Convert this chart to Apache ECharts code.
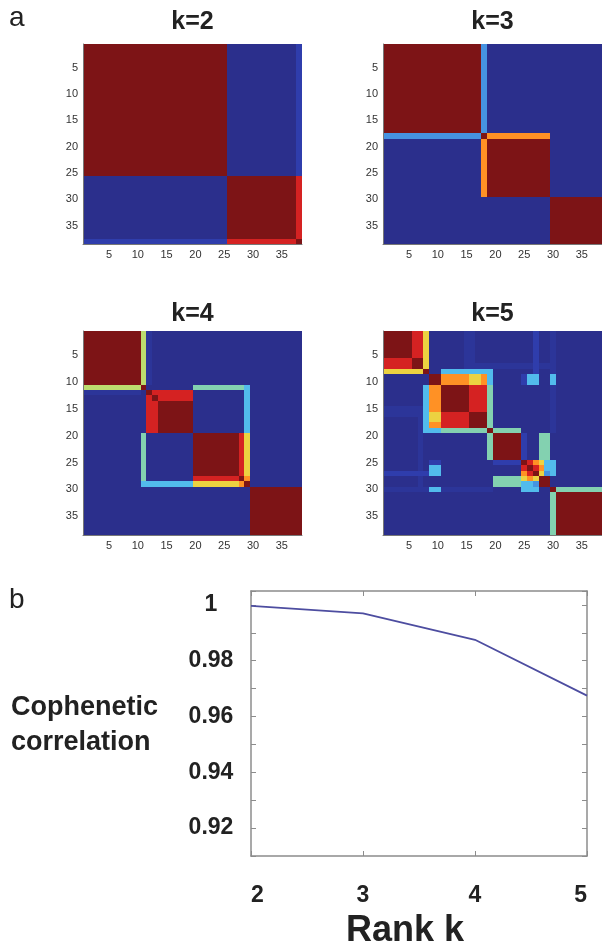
<!DOCTYPE html>
<html>
<head>
<meta charset="utf-8">
<script src="https://cdn.jsdelivr.net/npm/echarts@6/dist/echarts.min.js"></script>
<style>html,body{margin:0;padding:0;background:#fff}#c{width:602px;height:946px}</style>
</head>
<body>
<div id="c"></div>
<script>
// ---------- data ----------
const N = 38;
const sampleLabels = Array.from({length: N}, (_, i) => String(i + 1));
// consensus levels
const levels = {'.':0, b:0.035, B:0.09, L:0.28, C:0.37, G:0.48, g:0.57, Y:0.66, O:0.77, r:0.9, R:1};
// blocks: [rowFrom, rowTo, colFrom, colTo, level]  (matrix is symmetric)
const k2Blocks = [
  [1,25,1,25,'R'], [26,38,26,38,'R'], [38,38,1,25,'B'], [26,37,38,38,'r'], [38,38,38,38,'R']
];
const k3Blocks = [
  [1,17,1,17,'R'], [19,29,19,29,'R'], [30,38,30,38,'R'],
  [18,18,1,17,'L'], [18,18,19,29,'O'], [18,18,18,18,'R']
];
const k4Blocks = [
  [1,10,1,10,'R'], [11,11,1,10,'g'], [11,11,11,11,'R'], [12,12,1,10,'b'],
  [12,19,12,19,'R'], [12,13,12,19,'r'], [12,12,12,12,'R'], [13,13,13,13,'R'],
  [20,27,20,27,'R'], [28,28,20,27,'r'], [28,28,28,28,'R'],
  [11,11,20,28,'G'], [29,29,11,11,'C'], [29,29,12,19,'C'], [29,29,20,27,'Y'],
  [29,29,28,28,'O'], [29,29,29,29,'R'], [30,38,30,38,'R']
];
const k5Blocks = [
  [7,7,16,29,'b'], [1,7,15,16,'b'], [27,27,1,8,'B'], [1,19,30,30,'b'],
  [1,7,1,7,'R'], [6,7,1,5,'r'], [6,7,6,7,'R'],
  [8,8,1,7,'Y'], [8,8,8,8,'R'],
  [9,10,9,10,'R'],
  [11,18,11,18,'R'], [16,18,11,15,'r'],
  [9,10,11,15,'O'], [9,10,16,17,'Y'], [9,10,18,18,'O'],
  [8,8,11,19,'C'],
  [19,19,9,10,'C'], [19,19,11,18,'G'], [19,19,19,19,'R'],
  [20,24,20,24,'R'], [19,19,20,24,'G'], [28,29,20,24,'G'], [25,25,20,24,'B'],
  [25,27,25,27,'R'], [25,25,26,26,'r'], [26,26,27,27,'r'], [25,25,27,27,'O'],
  [28,28,25,25,'Y'], [28,28,26,26,'O'], [28,28,27,27,'Y'],
  [29,29,25,26,'C'], [29,29,27,27,'L'], [28,29,28,29,'R'],
  [30,30,25,27,'C'],
  [25,25,9,10,'B'], [26,27,9,10,'C'], [30,30,9,10,'C'],
  [30,30,30,30,'R'], [31,38,30,30,'G'], [31,38,31,38,'R']
];
const kTitles = ['k=2', 'k=3', 'k=4', 'k=5'];
const heatTicks = [5, 10, 15, 20, 25, 30, 35];

const ranks = [2, 3, 4, 5];
const cophenetic = [0.9997, 0.9970, 0.9875, 0.9675];
const yTickLabels = [0.92, 0.94, 0.96, 0.98, 1];

// ---------- build ----------
function buildData(blocks) {
  const m = Array.from({length: N}, () => Array(N).fill(0));
  for (const [r1, r2, c1, c2, code] of blocks) {
    const v = levels[code];
    for (let r = r1; r <= r2; r++) for (let c = c1; c <= c2; c++) {
      m[r-1][c-1] = v; m[c-1][r-1] = v;
    }
  }
  const d = [];
  for (let r = 0; r < N; r++) for (let c = 0; c < N; c++) d.push([c, r, m[r][c]]);
  return d;
}
const allBlocks = [k2Blocks, k3Blocks, k4Blocks, k5Blocks];

const heatGrids = [
  {left: 83, top: 44, width: 219, height: 200},
  {left: 383, top: 44, width: 219, height: 200},
  {left: 83, top: 331, width: 219, height: 204},
  {left: 383, top: 331, width: 219, height: 204}
];
const lineGrid = {left: 251, top: 591, width: 336, height: 265};

const smallFont = {fontFamily: '"Liberation Sans Narrow","Liberation Sans",Arial,sans-serif', fontSize: 11, color: '#333'};
const tickFilter = (i) => heatTicks.includes(i + 1);

const grids = heatGrids.map(g => Object.assign({show: false}, g));
grids.push(Object.assign({show: false}, lineGrid));

function renderCell(params, api) {
  const c = api.coord([api.value(0), api.value(1)]);
  const s = api.size([1, 1]);
  const x0 = Math.round(c[0] - s[0] / 2), x1 = Math.round(c[0] + s[0] / 2);
  const y0 = Math.round(c[1] - s[1] / 2), y1 = Math.round(c[1] + s[1] / 2);
  return {type: 'rect', shape: {x: x0, y: y0, width: x1 - x0, height: y1 - y0},
          style: {fill: api.visual('color')}};
}

const xAxes = [], yAxes = [], series = [];
heatGrids.forEach((g, i) => {
  xAxes.push({type: 'category', gridIndex: i, data: sampleLabels, position: 'bottom',
    axisLine: {show: true, lineStyle: {color: '#777', width: 1}}, axisTick: {show: false},
    axisLabel: Object.assign({interval: (idx) => tickFilter(idx), margin: 5}, smallFont),
    splitLine: {show: false}, z: 5});
  yAxes.push({type: 'category', gridIndex: i, data: sampleLabels, inverse: true,
    axisLine: {show: true, lineStyle: {color: '#777', width: 1}}, axisTick: {show: false},
    axisLabel: Object.assign({interval: (idx) => tickFilter(idx), margin: 5}, smallFont),
    splitLine: {show: false}, z: 5});
  series.push({type: 'custom', xAxisIndex: i, yAxisIndex: i, data: buildData(allBlocks[i]),
    encode: {x: 0, y: 1}, renderItem: renderCell, silent: true, z: 1});
});

const boxColor = '#8c8c8c';
const tickFontBold = {fontFamily: '"Liberation Sans",Arial,sans-serif', fontWeight: 'bold', fontSize: 23, color: '#222'};
// line chart axes
xAxes.push({type: 'value', gridIndex: 4, min: 2, max: 5, interval: 1, position: 'bottom',
  axisLine: {show: true, lineStyle: {color: boxColor, width: 1.5}},
  axisTick: {show: true, inside: true, length: 5, lineStyle: {color: boxColor}},
  axisLabel: Object.assign({margin: 28, alignMinLabel: 'left', alignMaxLabel: 'right'}, tickFontBold), splitLine: {show: false}});
xAxes.push({type: 'value', gridIndex: 4, min: 2, max: 5, interval: 1, position: 'top',
  axisLine: {show: true, lineStyle: {color: boxColor, width: 1.5}},
  axisTick: {show: true, inside: true, length: 5, lineStyle: {color: boxColor}},
  axisLabel: {show: false}, splitLine: {show: false}});
const yFmt = (v) => {
  const h = v * 100, r = Math.round(h);
  if (Math.abs(h - r) > 1e-6) return '';
  const hit = yTickLabels.find(t => Math.abs(t * 100 - r) < 1e-6);
  return hit === undefined ? '' : (hit === 1 ? '1' : hit.toFixed(2));
};
yAxes.push({type: 'value', gridIndex: 4, min: 0.91, max: 1.005, interval: 0.01, position: 'left',
  axisLine: {show: true, lineStyle: {color: boxColor, width: 1.5}},
  axisTick: {show: true, inside: true, length: 5, lineStyle: {color: boxColor}},
  axisLabel: Object.assign({margin: 40, align: 'center', formatter: yFmt}, tickFontBold),
  splitLine: {show: false}});
yAxes.push({type: 'value', gridIndex: 4, min: 0.91, max: 1.005, interval: 0.01, position: 'right',
  axisLine: {show: true, lineStyle: {color: boxColor, width: 1.5}},
  axisTick: {show: true, inside: true, length: 5, lineStyle: {color: boxColor}},
  axisLabel: {show: false}, splitLine: {show: false}});
series.push({type: 'line', xAxisIndex: 4, yAxisIndex: 4, data: ranks.map((k, i) => [k, cophenetic[i]]),
  symbol: 'none', lineStyle: {color: '#4d4da0', width: 1.8}, silent: true});

const titleFont = {fontFamily: '"Liberation Sans",Arial,sans-serif', fontWeight: 'bold', fontSize: 25, fill: '#222'};
const graphics = [];
heatGrids.forEach((g, i) => {
  graphics.push({type: 'text', x: g.left + g.width / 2, y: g.top - (i < 2 ? 22 : 17),
    style: Object.assign({text: kTitles[i], align: 'center', verticalAlign: 'middle'}, titleFont)});
});
const panelFont = {fontFamily: '"Liberation Sans",Arial,sans-serif', fontSize: 28, fill: '#222'};
graphics.push({type: 'text', x: 9, y: 18, style: Object.assign({text: 'a', verticalAlign: 'middle'}, panelFont)});
graphics.push({type: 'text', x: 9, y: 600, style: Object.assign({text: 'b', verticalAlign: 'middle'}, panelFont)});
const labelFont = {fontFamily: '"Liberation Sans",Arial,sans-serif', fontWeight: 'bold', fontSize: 27, fill: '#222'};
graphics.push({type: 'text', x: 11, y: 708, style: Object.assign({text: 'Cophenetic', verticalAlign: 'middle'}, labelFont)});
graphics.push({type: 'text', x: 11, y: 743, style: Object.assign({text: 'correlation', verticalAlign: 'middle'}, labelFont)});
graphics.push({type: 'text', x: 405, y: 931, style: Object.assign({text: 'Rank k', align: 'center', verticalAlign: 'middle'}, labelFont, {fontSize: 36})});

const chart = echarts.init(document.getElementById('c'), null, {renderer: 'canvas'});
chart.setOption({
  animation: false,
  backgroundColor: '#fff',
  grid: grids,
  xAxis: xAxes,
  yAxis: yAxes,
  visualMap: {type: 'continuous', min: 0, max: 1, dimension: 2, show: false, seriesIndex: [0, 1, 2, 3],
    inRange: {color: ['#2b2f8c', '#2f3fb0', '#3565cc', '#4a9ee6', '#55c8ee', '#8fd3a0',
                      '#cfe05a', '#ffc830', '#ff7a20', '#d52222', '#7d1416']}},
  series: series,
  graphic: graphics
});
</script>
</body>
</html>
